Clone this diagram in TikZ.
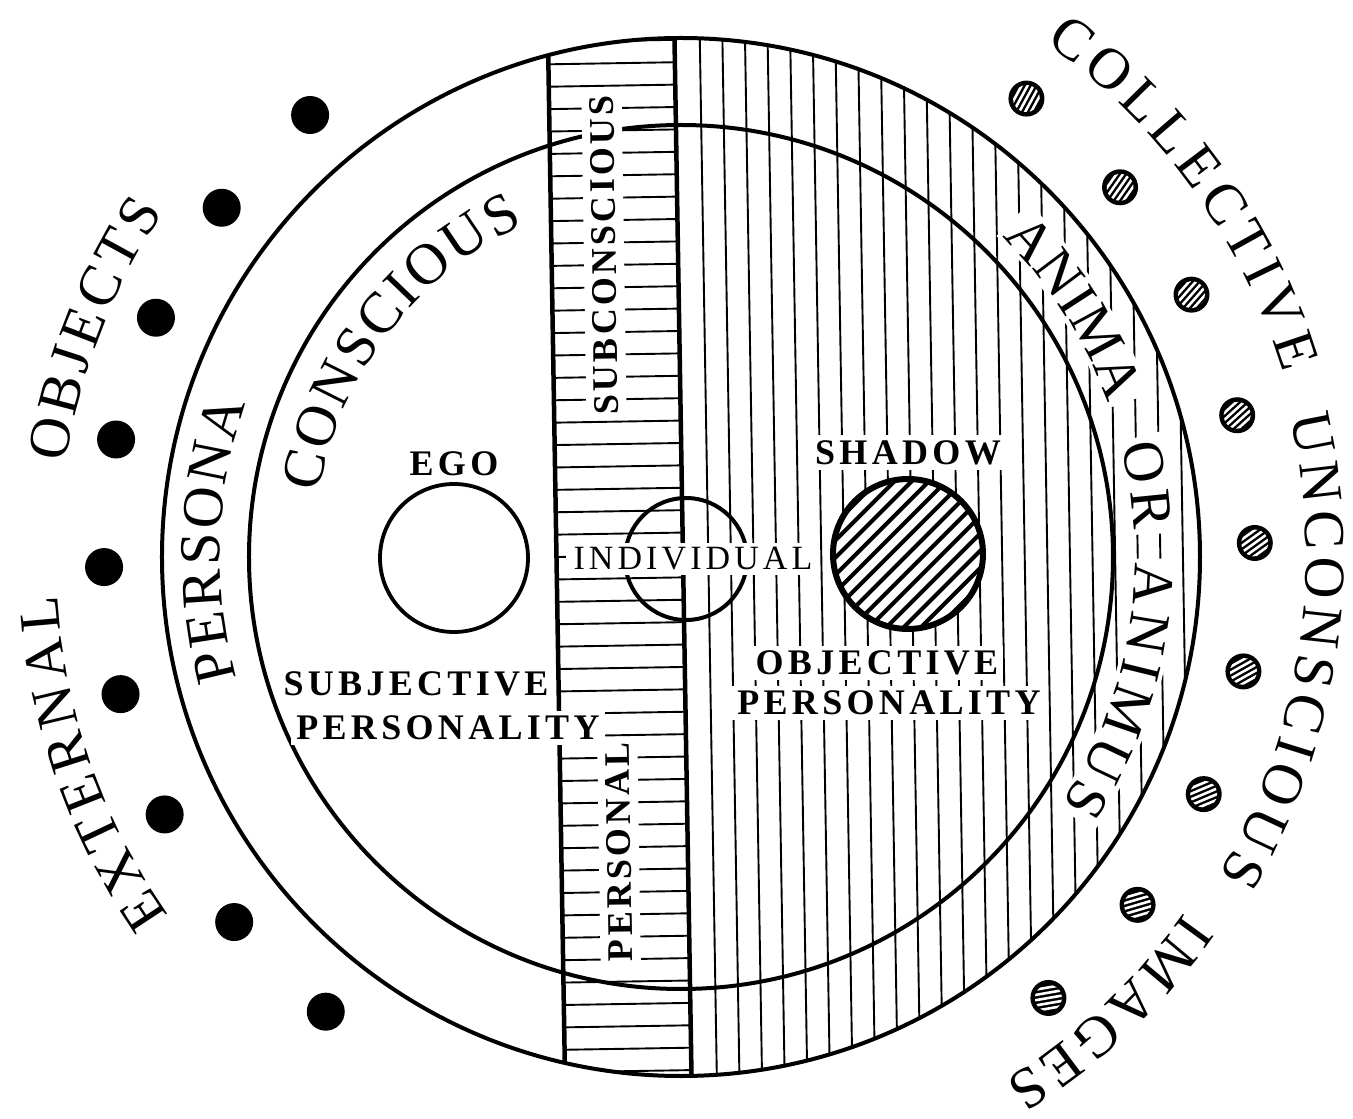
\documentclass[tikz,border=0pt]{standalone}
\usepackage{fontspec}
\setmainfont{Liberation Serif}
\newfontfamily\trackfont[LetterSpace=12]{Liberation Serif}
\newfontfamily\bandfont[LetterSpace=9]{Liberation Serif}
\usetikzlibrary{positioning, decorations.text}

\newcommand{\bigcaps}{\fontsize{58}{60}\selectfont}

\begin{document}
\begin{tikzpicture}[x=1pt, y=1pt,
  rim/.style={line width=4pt},
  divider/.style={line width=4.5pt},
  hatch/.style={line width=1.9pt},
  ring/.style={draw, circle, line width=3.8pt, inner sep=0pt},
  lbl/.style={fill=white, inner sep=5pt, font=\trackfont\bfseries\fontsize{36}{36}\selectfont},
  lbllight/.style={fill=white, inner sep=5pt, font=\trackfont\fontsize{34}{34}\selectfont},
  lblband/.style={fill=white, inner xsep=5pt, inner ysep=8pt, rotate=90.9, font=\bandfont\bfseries\fontsize{36}{36}\selectfont},
  arctext/.style={decorate, decoration={text along path, text align={fit to path}, text={|\bigcaps|#1}}},
  gap/.style={white, line width=46pt},
]
\fill[white] (-681,-562) rectangle (672,557);
\useasboundingbox (-681,-562) rectangle (672,557);

% hatching of the personal band and the objective half
\begin{scope}[rotate=0.94]
  \clip (0,0) circle (519);
  \foreach \m in {-23,...,23}
    \draw[hatch] (-124.5,{2+22.4*\m}) -- (2,{2+22.4*\m});
  \foreach \k in {0,...,21}
    \draw[hatch] ({27.3+22.6*\k},-525) -- ({27.3+22.6*\k},525);
\end{scope}

\draw[rim] (0,0) circle (519);
\draw[rim] (0,0) circle (432);
\begin{scope}[rotate=0.94]
  \draw[divider] (-124.5,-503.8) -- (-124.5,503.8);
  \draw[divider] (2,-519) -- (2,519);
\end{scope}

\node[ring, minimum size=148pt] (ego) at (-227,-1) {};
\node[ring, minimum size=122pt, line width=4pt] (indiv) at (5,-2) {};

% shadow
\fill[white] (227,3) circle (75);
\begin{scope}[shift={(227,3)}, rotate=45]
  \clip (0,0) circle (75);
  \foreach \d in {-6,...,6}
    \draw[line width=4pt] (-80,{12.2*\d}) -- (80,{12.2*\d});
\end{scope}
\node[ring, minimum size=150pt, line width=6pt] (shadow) at (227,3) {};

% white ground under anima / animus
\draw[gap] (45.5:473) arc[start angle=45.5, end angle=19.2, radius=473];
\draw[gap] (14.7:473) arc[start angle=14.7, end angle=2.8, radius=473];
\draw[gap] (-0.2:473) arc[start angle=-0.2, end angle=-33.5, radius=473];

\node[lbl, above=1pt of ego] (egolbl) {EGO};
\node[lbl, above=6pt of shadow] (shadowlbl) {SHADOW};
\node[lbllight, inner xsep=8pt] (indivlbl) at (12,-2) {INDIVIDUAL};
\node[lblband] (subc) at (-77,302) {SUBCONSCIOUS};
\node[lblband] (pers) at (-62,-295) {PERSONAL};
\node[lbl] (subj) at (-265,-127) {SUBJECTIVE};
\node[lbl] (subjpers) at (-233,-171) {PERSONALITY};
\node[lbl] (obj) at (196,-106) {OBJECTIVE};
\node[lbl] (objpers) at (208,-146) {PERSONALITY};

% lettering along the circles
\path[arctext=EXTERNAL] (215:625) arc[start angle=215, end angle=183.5, radius=625];
\path[arctext=OBJECTS] (171.3:622) arc[start angle=171.3, end angle=146.3, radius=622];
\path[arctext=COLLECTIVE] (54.7:630) arc[start angle=54.7, end angle=17, radius=630];
\path[arctext=UNCONSCIOUS] (13:625) arc[start angle=13, end angle=-30.6, radius=625];
\path[arctext=IMAGES] (-35.2:616) arc[start angle=-35.2, end angle=-58.3, radius=616];
\path[arctext=PERSONA] (195.3:461) arc[start angle=195.3, end angle=160.5, radius=461];
\path[arctext=CONSCIOUS] (170:368) arc[start angle=170, end angle=115.3, radius=368];
\path[arctext=ANIMA] (44.9:454) arc[start angle=44.9, end angle=19.75, radius=454];
\path[arctext=OR] (14.15:454) arc[start angle=14.15, end angle=3.36, radius=454];
\path[arctext=ANIMUS] (-0.75:454) arc[start angle=-0.75, end angle=-32.9, radius=454];

% external objects
\foreach \a in {0,...,8}
  \fill ({130+12.75*\a}:577) circle (19);

% collective images
\foreach \a in {0,...,8} {
  \pgfmathsetmacro\ang{53-12.9*\a}
  \fill (\ang:574) circle (18);
  \begin{scope}[shift={(\ang:574)}, rotate={35+\ang/2}]
    \clip (0,0) circle (13.5);
    \foreach \s in {-2,...,2}
      \draw[white, line width=2.6pt] (-20,{5.2*\s}) -- (20,{5.2*\s});
  \end{scope}
}
\end{tikzpicture}
\end{document}
